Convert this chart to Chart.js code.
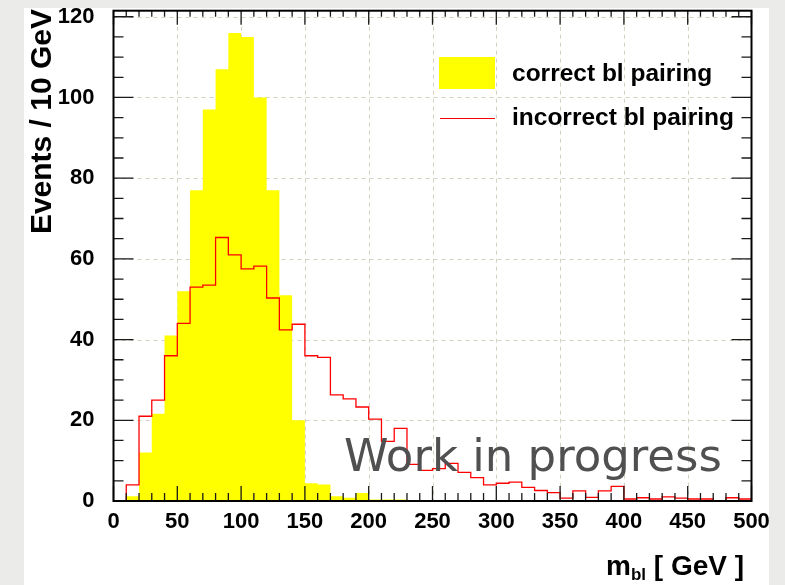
<!DOCTYPE html>
<html>
<head>
<meta charset="utf-8">
<script src="https://cdn.jsdelivr.net/npm/chart.js@4.4.1/dist/chart.umd.min.js"></script>
<style>
  html, body { margin: 0; padding: 0; background: #ebebe9; }
  canvas { display: block; }
</style>
</head>
<body>
<canvas id="c" width="785" height="585"></canvas>
<script>
// ---- data (events per 10 GeV bin) ----
const binEdges = [0,10,20,30,40,50,60,70,80,90,100,110,120,130,140,150,160,170,180,190,200,
  210,220,230,240,250,260,270,280,290,300,310,320,330,340,350,360,370,380,390,400,
  410,420,430,440,450,460,470,480,490,500];
const correct = [0,1.2,12,21.6,41,52,77,97,107,116,115,100,77,51,20,4.4,4.1,1.2,0.8,2,
  0.4,0.4,0.4,0,0,0,0,0,0,0,0,0,0,0,0,0,0,0,0,0,0,0,0,0,0,0,0,0,0,0];
const incorrect = [0,4,21,25,36,44,53,53.5,65.3,61,57.5,58.2,50.3,42.4,43.8,36,35.6,26.3,25.3,23.3,
  20.3,14.8,18,9.1,7.6,8,9.3,7.1,5.8,4.0,4.4,4.7,3.4,2.6,2.1,0.7,2.5,0.9,2.5,3.6,
  0.5,0.8,0.5,1.0,0.7,0.5,0.5,0,0.8,0.5];
const xTicks = [0,50,100,150,200,250,300,350,400,450,500];
const yTicks = [0,20,40,60,80,100,120];
const seriesNames = ['correct bl pairing', 'incorrect bl pairing'];

function histPoints(vals) {
  const pts = [];
  vals.forEach((v, i) => { pts.push({x: binEdges[i], y: v}); pts.push({x: binEdges[i+1], y: v}); });
  return pts;
}

const BOLD = '"Liberation Sans", Arial, Helvetica, sans-serif';

const bgPlugin = {
  id: 'bg',
  beforeDraw(chart) {
    const c = chart.ctx;
    c.save();
    c.fillStyle = '#ebebe9';
    c.fillRect(0, 0, chart.width, chart.height);
    c.fillStyle = '#ffffff';
    c.fillRect(24, 8, 769 - 24, 585 - 8);
    c.restore();
  },
  beforeDatasetsDraw(chart) {
    const c = chart.ctx, xs = chart.scales.x, ys = chart.scales.y, a = chart.chartArea;
    c.save();
    c.strokeStyle = '#d3d1bf';
    c.lineWidth = 1;
    c.setLineDash([4, 4]);
    xTicks.forEach(v => {
      if (v === 0 || v === 500) return;
      const px = Math.round(xs.getPixelForValue(v)) + 0.5;
      c.beginPath(); c.moveTo(px, a.top); c.lineTo(px, a.bottom); c.stroke();
    });
    yTicks.forEach(v => {
      if (v === 0) return;
      const py = Math.round(ys.getPixelForValue(v)) + 0.5;
      c.beginPath(); c.moveTo(a.left, py); c.lineTo(a.right, py); c.stroke();
    });
    c.restore();
  },
  afterDatasetsDraw(chart) {
    const c = chart.ctx, xs = chart.scales.x, ys = chart.scales.y, a = chart.chartArea;
    c.save();
    // ticks
    c.strokeStyle = '#1a1a1a';
    c.lineWidth = 1.3;
    for (let v = 0; v <= 500; v += 10) {
      const px = xs.getPixelForValue(v);
      const major = v % 50 === 0;
      c.beginPath();
      c.moveTo(px, a.bottom); c.lineTo(px, a.bottom - (major ? 15 : 8));
      c.moveTo(px, a.top); c.lineTo(px, a.top + (major ? 14 : 6));
      c.stroke();
    }
    for (let v = 0; v <= 120; v += 5) {
      const py = ys.getPixelForValue(v);
      const major = v % 20 === 0;
      c.beginPath();
      c.moveTo(a.left, py); c.lineTo(a.left + (major ? 20 : 10), py);
      c.moveTo(a.right, py); c.lineTo(a.right - (major ? 20 : 10), py);
      c.stroke();
    }
    // frame
    c.lineWidth = 2;
    c.strokeStyle = '#000';
    c.strokeRect(a.left, a.top, a.right - a.left, a.bottom - a.top);

    // Work in progress
    c.fillStyle = '#505050';
    c.font = '45px "DejaVu Sans", sans-serif';
    c.textBaseline = 'alphabetic';
    c.textAlign = 'left';
    c.fillText('Work in progress', 344, 471);

    // legend
    c.fillStyle = '#ffff00';
    c.fillRect(439, 57, 56, 32);
    c.strokeStyle = '#ff0000';
    c.lineWidth = 1.2;
    c.beginPath(); c.moveTo(440, 118.5); c.lineTo(495, 118.5); c.stroke();
    c.fillStyle = '#000';
    c.font = 'bold 24.5px ' + BOLD;
    c.fillText(seriesNames[0], 512, 81);
    c.fillText(seriesNames[1], 512, 125);

    // axis titles
    c.font = 'bold 30px ' + BOLD;
    c.save();
    c.translate(51, 9);
    c.rotate(-Math.PI / 2);
    c.textAlign = 'right';
    c.fillText('Events / 10 GeV', 0, 0);
    c.restore();

    c.textAlign = 'left';
    let x = 606, y = 575;
    c.font = 'bold 28px ' + BOLD;
    c.fillText('m', x, y); x += c.measureText('m').width;
    c.font = 'bold 17px ' + BOLD;
    c.fillText('bl', x, y + 5); x += c.measureText('bl').width;
    c.font = 'bold 28px ' + BOLD;
    c.fillText(' [ GeV ]', x, y);
    c.restore();
  }
};

new Chart(document.getElementById('c'), {
  type: 'line',
  data: {
    datasets: [
      { label: seriesNames[0], data: histPoints(correct), fill: 'origin', backgroundColor: '#ffff00',
        borderWidth: 0, borderColor: 'rgba(0,0,0,0)', pointRadius: 0, tension: 0, order: 2 },
      { label: seriesNames[1], data: histPoints(incorrect), fill: false, borderColor: '#ff0000',
        borderWidth: 1.3, pointRadius: 0, tension: 0, order: 1, clip: 3 }
    ]
  },
  options: {
    responsive: false,
    animation: false,
    devicePixelRatio: 1,
    layout: { padding: { top: 10.7, right: 785 - 751.5, left: 0, bottom: 0 } },
    plugins: { legend: { display: false }, tooltip: { enabled: false } },
    scales: {
      x: {
        type: 'linear', min: 0, max: 500,
        afterFit: s => { s.height = 84; s.paddingLeft = 0; s.paddingRight = 0; s.paddingTop = 0; s.paddingBottom = 0; },
        afterBuildTicks: s => { s.ticks = xTicks.map(v => ({ value: v })); },
        ticks: { font: { family: BOLD, size: 22, weight: 'bold' }, color: '#000', padding: 8, maxRotation: 0, autoSkip: false },
        grid: { display: false, drawTicks: false },
        border: { display: false }
      },
      y: {
        type: 'linear', min: 0, max: 121.5,
        afterFit: s => { s.width = 113.5; s.paddingTop = 0; s.paddingBottom = 0; s.paddingLeft = 0; s.paddingRight = 0; },
        afterBuildTicks: s => { s.ticks = yTicks.map(v => ({ value: v })); },
        ticks: { font: { family: BOLD, size: 22, weight: 'bold' }, color: '#000', padding: 19 },
        grid: { display: false, drawTicks: false },
        border: { display: false }
      }
    }
  },
  plugins: [bgPlugin]
});
</script>
</body>
</html>
